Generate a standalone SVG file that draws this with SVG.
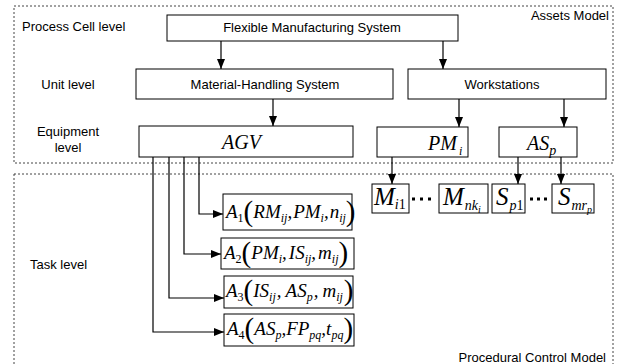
<svg xmlns="http://www.w3.org/2000/svg" width="619" height="364" viewBox="0 0 619 364">
<defs>
<style>
.lbl{font-family:"Liberation Sans",Arial,sans-serif;font-size:13px;fill:#000}
.box{fill:#fff;stroke:#000;stroke-width:1}
.dash{fill:none;stroke:#444;stroke-width:1;stroke-dasharray:2 2}
.m{font-family:"Liberation Serif","Times New Roman",serif;font-style:italic;font-size:19px;fill:#000}
.big{font-size:25px}
.eq{font-size:20px}
.up{font-style:normal}
.par{font-style:normal;font-size:29px}
.s{font-size:12px}
.s2{font-size:14px}
.s3{font-size:10px}
.conn line,.conn path{stroke:#000;stroke-width:1.2;fill:none;marker-end:url(#ah)}
</style>
<marker id="ah" viewBox="0 0 10 8" refX="10" refY="4" markerWidth="10" markerHeight="8" markerUnits="userSpaceOnUse" orient="auto">
<path d="M0,0 L10,4 L0,8 z" fill="#000"/>
</marker>
</defs>
<rect width="619" height="364" fill="#fff"/>

<g id="assets-model">
<rect class="dash" x="14" y="6" width="599" height="157"/>
<text class="lbl" x="609" y="19.5" text-anchor="end">Assets Model</text>
</g>
<g id="procedural-model">
<rect class="dash" x="14" y="174" width="599" height="200"/>
<text class="lbl" x="606" y="361.5" text-anchor="end">Procedural Control Model</text>
</g>

<g id="level-labels">
<text class="lbl" x="22" y="31">Process Cell level</text>
<text class="lbl" x="68" y="89" text-anchor="middle">Unit level</text>
<text class="lbl" x="68" y="135.5" text-anchor="middle">Equipment</text>
<text class="lbl" x="68" y="152" text-anchor="middle">level</text>
<text class="lbl" x="30" y="268.5">Task level</text>
</g>

<g class="conn" id="connectors">
<line x1="221" y1="41" x2="221" y2="69"/>
<line x1="443" y1="41" x2="443" y2="69"/>
<line x1="273" y1="99" x2="273" y2="126"/>
<line x1="459" y1="99" x2="459" y2="127"/>
<line x1="564" y1="99" x2="564" y2="127"/>
<line x1="392" y1="157" x2="392" y2="184"/>
<line x1="518" y1="157" x2="518" y2="184"/>
<line x1="561" y1="157" x2="561" y2="184"/>
<path d="M199,157 V214 H223"/>
<path d="M184,157 V254 H221"/>
<path d="M169,157 V298 H224"/>
<path d="M153,157 V332 H224"/>
</g>

<g id="fms">
<rect class="box" x="167" y="15" width="291" height="26"/>
<text class="lbl" x="312" y="32" text-anchor="middle">Flexible Manufacturing System</text>
</g>
<g id="mhs">
<rect class="box" x="136" y="69" width="257" height="30"/>
<text class="lbl" x="265" y="88.5" text-anchor="middle">Material-Handling System</text>
</g>
<g id="workstations">
<rect class="box" x="408" y="69" width="198" height="30"/>
<text class="lbl" x="502" y="88.5" text-anchor="middle">Workstations</text>
</g>
<g id="agv">
<rect class="box" x="139" y="126" width="214" height="31"/>
<text class="m eq" x="222" y="149">AGV</text>
</g>
<g id="pm">
<rect class="box" x="377" y="127" width="91" height="30"/>
<text class="m eq" x="428" y="150">PM<tspan class="s" dx="2" y="155">i</tspan></text>
</g>
<g id="as">
<rect class="box" x="499" y="127" width="78" height="30"/>
<text class="m eq" x="527" y="150">AS<tspan class="s2" y="155">p</tspan></text>
</g>

<g id="m-i1">
<rect class="box" x="372" y="184" width="37" height="29"/>
<text class="m big" x="374" y="205">M<tspan class="s2" y="209">i</tspan><tspan class="s2 up">1</tspan></text>
</g>
<g id="dots1">
<rect x="412" y="197.5" width="3" height="3"/><rect x="420" y="197.5" width="3" height="3"/><rect x="428" y="197.5" width="3" height="3"/>
</g>
<g id="m-nk">
<rect class="box" x="439" y="184" width="49" height="29"/>
<text class="m big" x="443" y="205">M<tspan class="s2" dx="1" y="210">nk</tspan><tspan class="s3" y="213">i</tspan></text>
</g>
<g id="s-p1">
<rect class="box" x="492" y="184" width="33" height="29"/>
<text class="m big" x="496" y="205">S<tspan class="s2" dx="1" y="210">p</tspan><tspan class="s2 up" y="210">1</tspan></text>
</g>
<g id="dots2">
<rect x="530" y="197.5" width="3" height="3"/><rect x="537" y="197.5" width="3" height="3"/><rect x="544" y="197.5" width="3" height="3"/>
</g>
<g id="s-mr">
<rect class="box" x="552" y="184" width="42" height="29"/>
<text class="m big" x="558" y="205">S<tspan class="s2" dx="1" y="210">mr</tspan><tspan class="s3" y="213">p</tspan></text>
</g>

<g id="a1">
<rect class="box" x="223" y="194" width="129" height="36"/>
<text class="m" x="226" y="218">A<tspan class="s up" y="222">1</tspan><tspan class="par" y="221">(</tspan><tspan y="218">RM</tspan><tspan class="s" y="222">ij</tspan><tspan y="218">,</tspan><tspan dx="1" y="218">PM</tspan><tspan class="s" y="222">i</tspan><tspan y="218">,</tspan><tspan dx="1" y="218">n</tspan><tspan class="s" y="222">ij</tspan><tspan class="par" y="221">)</tspan></text>
</g>
<g id="a2">
<rect class="box" x="221" y="238" width="133" height="31"/>
<text class="m" x="224" y="259">A<tspan class="s up" y="263">2</tspan><tspan class="par" y="262">(</tspan><tspan y="259">PM</tspan><tspan class="s" y="263">i</tspan><tspan y="259">,</tspan><tspan dx="2" y="259">IS</tspan><tspan class="s" y="263">ij</tspan><tspan y="259">,</tspan><tspan dx="2" y="259">m</tspan><tspan class="s" y="263">ij</tspan><tspan class="par" y="262">)</tspan></text>
</g>
<g id="a3">
<rect class="box" x="224" y="276" width="129" height="32"/>
<text class="m" x="226" y="297">A<tspan class="s up" y="301">3</tspan><tspan class="par" y="300">(</tspan><tspan y="297">IS</tspan><tspan class="s" y="301">ij</tspan><tspan dx="1" y="297">,</tspan><tspan dx="4" y="297">AS</tspan><tspan class="s" y="301">p</tspan><tspan dx="1" y="297">,</tspan><tspan dx="4" y="297">m</tspan><tspan class="s" y="301">ij</tspan><tspan class="par" dx="1" y="300">)</tspan></text>
</g>
<g id="a4">
<rect class="box" x="224" y="314" width="130" height="32"/>
<text class="m" x="227" y="335">A<tspan class="s up" y="339">4</tspan><tspan class="par" y="338">(</tspan><tspan y="335">AS</tspan><tspan class="s" y="339">p</tspan><tspan y="335">,</tspan><tspan y="335">FP</tspan><tspan class="s" y="339">pq</tspan><tspan y="335">,</tspan><tspan y="335">t</tspan><tspan class="s" y="339">pq</tspan><tspan class="par" y="338">)</tspan></text>
</g>
</svg>
